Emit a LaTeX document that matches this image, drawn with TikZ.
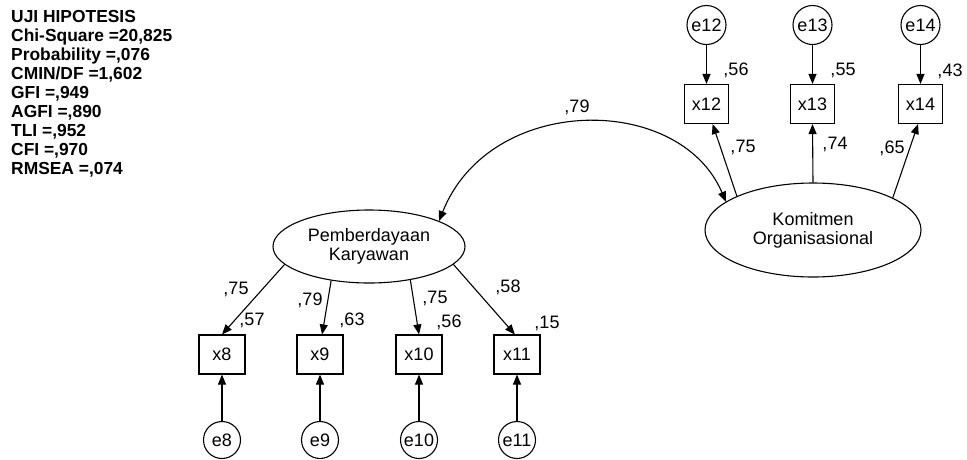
\documentclass[tikz,border=0pt]{standalone}
\usepackage{fontspec}
\setmainfont{Liberation Sans}
\usetikzlibrary{shapes.geometric,arrows.meta}
\begin{document}
\begin{tikzpicture}[x=1pt,y=-1pt,
  every node/.style={font=\fontsize{18}{19}\selectfont},
  obs/.style={draw, line width=1.1pt, minimum width=44pt, minimum height=39pt, inner sep=0pt},
  err/.style={draw, line width=1.1pt, circle, minimum size=39pt, inner sep=0pt},
  errlow/.style={err, minimum size=37pt},
  lat/.style={draw, line width=1.1pt, ellipse, align=center, inner sep=0pt},
  link/.style={line width=1.1pt, -{Triangle[length=10pt,width=8pt]}},
  corr/.style={line width=1.1pt, {Triangle[length=10pt,width=8pt]}-{Triangle[length=10pt,width=8pt]}},
  lbl/.style={inner sep=0pt}
]
\useasboundingbox (0,0) rectangle (967,459);

% fit statistics
\node[anchor=north west, align=left, inner sep=0pt,
      font=\bfseries\fontsize{17.4}{19}\selectfont] (fit) at (11,10)
  {UJI HIPOTESIS\\Chi-Square =20,825\\Probability =,076\\CMIN/DF =1,602\\GFI =,949\\AGFI =,890\\TLI =,952\\CFI =,970\\RMSEA =,074};

% latent variables
\node[lat, minimum width=216pt, minimum height=94pt] (ko) at (813,230) {Komitmen\\Organisasional};
\node[lat, minimum width=192pt, minimum height=73pt] (pe) at (369,246.5) {Pemberdayaan\\Karyawan};

% indicators of Komitmen Organisasional
\node[obs] (x12) at (706.5,104) {x12};
\node[obs] (x13) at (812.5,104) {x13};
\node[obs] (x14) at (920.5,104) {x14};
\node[err] (e12) at (706.5,25) {e12};
\node[err] (e13) at (812.5,25) {e13};
\node[err] (e14) at (920.5,25) {e14};

% indicators of Pemberdayaan Karyawan
\node[obs, minimum width=46pt] (x8)  at (222,354.5) {x8};
\node[obs, minimum width=46pt] (x9)  at (320,354.5) {x9};
\node[obs, minimum width=46pt] (x10) at (419,354.5) {x10};
\node[obs, minimum width=46pt] (x11) at (517,354.5) {x11};
\node[errlow] (e8)  at (222,440) {e8};
\node[errlow] (e9)  at (320,440) {e9};
\node[errlow] (e10) at (419,440) {e10};
\node[errlow] (e11) at (517,440) {e11};

% error terms
\foreach \i in {12,13,14} \draw[link] (e\i) -- (x\i);
\foreach \i in {8,9,10,11} \draw[link] (e\i) -- (x\i);

% loadings
\draw[link] (ko.156) -- (x12.287);
\draw[link] (ko.north) -- (x13.south);
\draw[link] (ko.22) -- (x14.263);
\draw[link] (pe.192) -- (x8.north);
\draw[link] (pe.222) -- (x9.84);
\draw[link] (pe.321) -- (x10.north);
\draw[link] (pe.348) -- (x11.96);

% correlation between latents
\draw[corr] (pe.20) .. controls (490,93) and (680,93) .. (ko.162);

% estimates
\node[lbl] (l79)  at (577,107) {,79};
\node[lbl] (r12)  at (736,70)  {,56};
\node[lbl] (r13)  at (843,70)  {,55};
\node[lbl] (r14)  at (950,71)  {,43};
\node[lbl] (w12)  at (743,147) {,75};
\node[lbl] (w13)  at (835,144) {,74};
\node[lbl] (w14)  at (892,148) {,65};
\node[lbl] (w8)   at (236,289) {,75};
\node[lbl] (r8)   at (252,320) {,57};
\node[lbl] (w9)   at (310,300) {,79};
\node[lbl] (r9)   at (352,320) {,63};
\node[lbl] (w10)  at (435,298) {,75};
\node[lbl] (r10)  at (449,322) {,56};
\node[lbl] (w11)  at (508,287) {,58};
\node[lbl] (r11)  at (547,323) {,15};
\end{tikzpicture}
\end{document}
